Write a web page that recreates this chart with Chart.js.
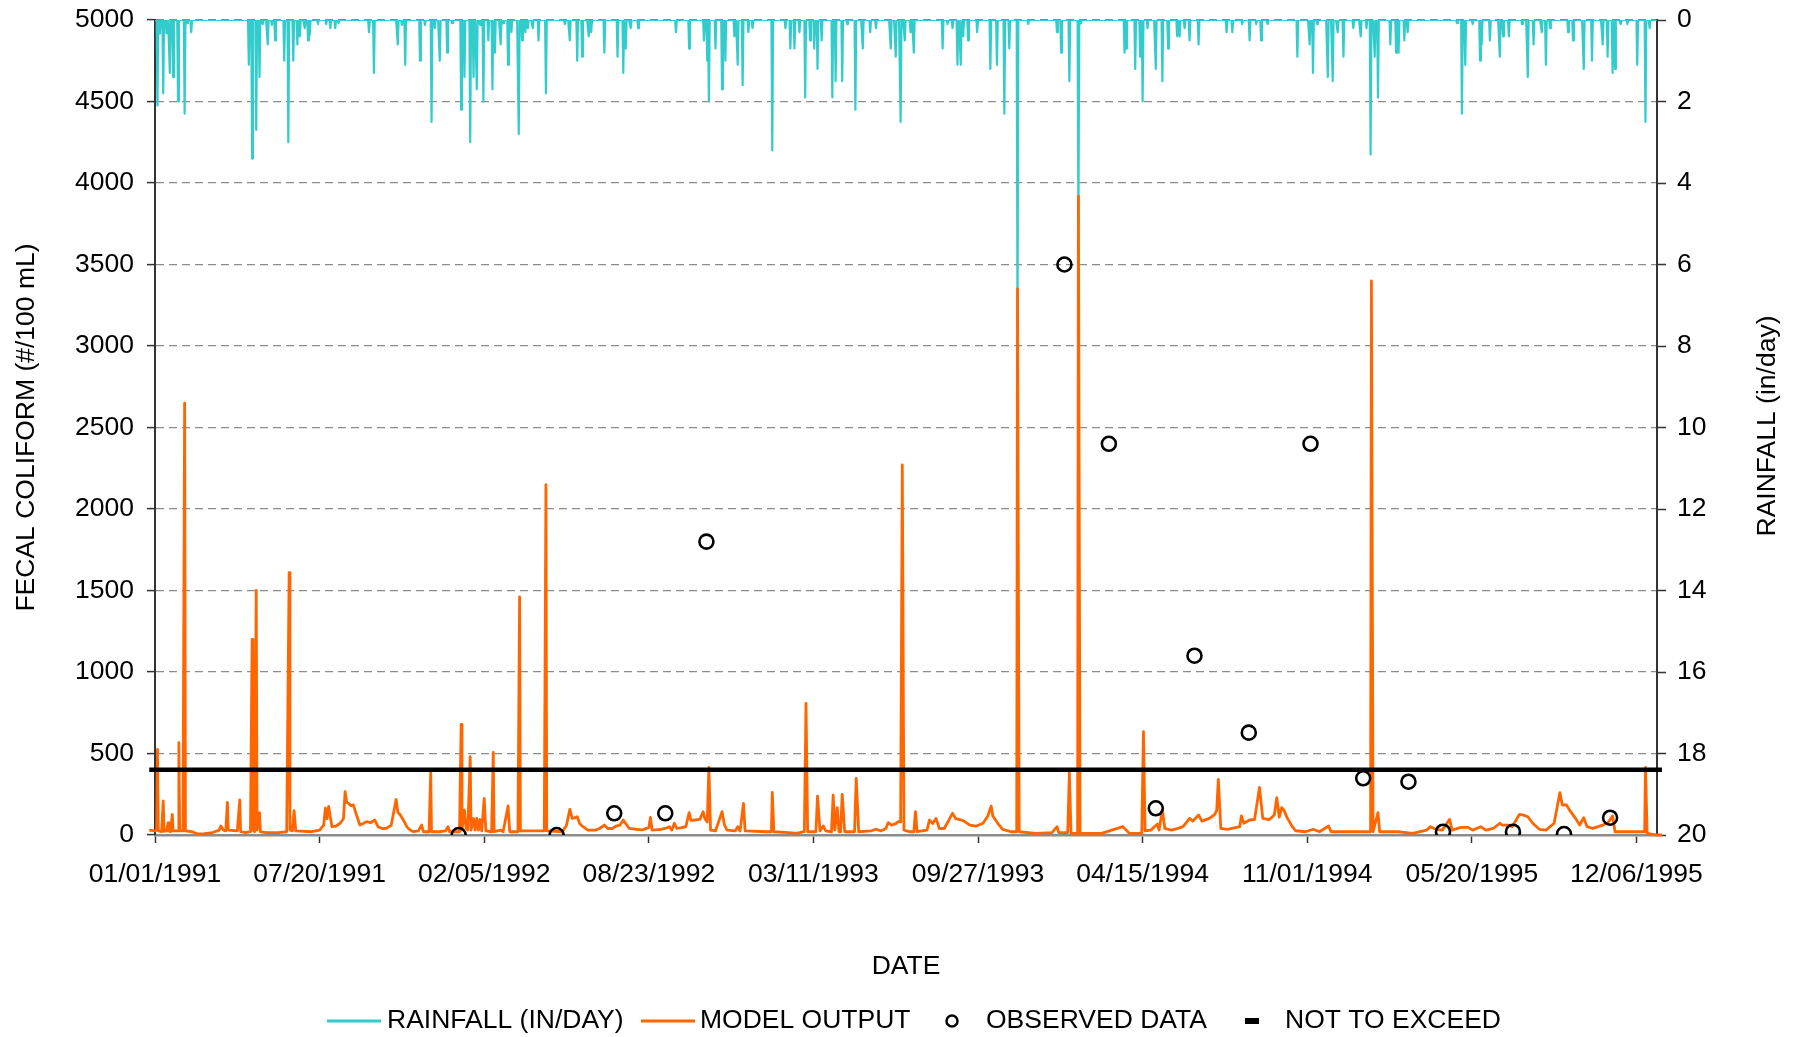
<!DOCTYPE html>
<html>
<head>
<meta charset="utf-8">
<script src="https://cdn.jsdelivr.net/npm/chart.js@4.4.1/dist/chart.umd.min.js"></script>
<style>
html,body{margin:0;padding:0;background:#ffffff;}
#wrap{width:1794px;height:1037px;position:relative;}
</style>
</head>
<body>
<div id="wrap"><canvas id="c" width="1794" height="1037"></canvas></div>
<script>
// Day numbers are counted from 01/01/1991 (day 0).
const START_DATE = '01/01/1991';
const END_DATE = '12/31/1995';
const tickLabels = ['01/01/1991','07/20/1991','02/05/1992','08/23/1992','03/11/1993',
  '09/27/1993','04/15/1994','11/01/1994','05/20/1995','12/06/1995'];

// MODEL OUTPUT (fecal coliform, #/100 mL)
const modelDays = [
  -7,0,2,3,4,8,10,11,14,16,17,19,21,22,28,29,30,34,36,37,45,52,60,70,78,80,83,86,88,89,
  100,103,104,110,116,118,119,121,123,124,127,128,135,150,160,163,164,167,169,171,
  190,200,205,207,209,211,215,220,225,229,231,233,235,238,241,245,249,253,257,262,
  267,271,276,281,287,293,295,298,302,306,310,314,320,324,326,333,335,336,345,353,
  356,358,370,372,373,376,378,380,383,384,387,389,391,393,395,397,400,402,409,411,
  412,420,423,429,431,441,443,444,473,475,476,495,500,504,507,510,513,516,520,526,
  535,540,546,550,556,560,565,569,572,576,585,592,600,602,604,607,615,620,625,628,
  631,634,640,645,649,651,656,662,666,668,671,673,675,681,689,692,695,705,708,711,
  715,717,742,749,750,752,770,779,789,791,793,803,805,808,812,815,822,824,826,829,
  831,833,835,838,850,852,855,870,876,882,888,891,895,900,903,906,908,910,917,922,
  924,926,938,941,945,949,953,959,969,973,982,990,998,1006,1012,1016,1018,1024,1030,1040,
  1047,1048,1050,1070,1090,1096,1098,1109,1111,1113,1121,1122,1124,1150,1176,1184,1199,1201,1203,1210,
  1218,1220,1224,1227,1235,1243,1249,1253,1257,1261,1268,1272,1281,1287,1290,1292,1295,1303,1318,1320,
  1323,1330,1336,1342,1346,1354,1360,1363,1366,1369,1372,1376,1382,1386,1398,1407,1415,1426,1429,1470,
  1477,1478,1480,1486,1488,1510,1528,1545,1550,1556,1564,1573,1576,1587,1595,1601,1611,1617,1626,1634,
  1637,1645,1649,1658,1663,1668,1674,1682,1690,1700,1707,1710,1715,1720,1726,1731,1736,1740,1747,1759,
  1765,1771,1774,1800,1810,1811,1813,1824,1831
];
const modelValues = [
  30,25,30,525,25,20,209,22,25,75,25,20,127,25,25,566,25,25,2650,25,20,6,8,15,30,55,30,25,200,30,
  25,215,20,15,20,1200,30,20,1500,30,137,20,15,15,20,1610,30,25,150,25,
  20,30,60,165,100,175,51,55,72,100,266,200,195,180,185,120,61,70,82,75,
  92,51,40,41,60,219,140,123,90,51,30,20,25,61,20,20,382,20,20,25,
  51,20,20,679,30,153,40,30,480,30,102,30,102,30,95,25,225,25,20,507,
  20,30,20,178,20,20,1460,25,25,2150,25,20,60,157,102,105,112,70,51,30,
  30,40,61,40,40,55,61,92,70,41,35,31,45,108,30,31,35,40,51,30,
  72,40,45,51,137,90,92,96,143,102,80,415,30,25,143,60,30,25,51,25,
  194,25,20,20,262,20,15,10,20,808,20,20,239,25,55,25,20,245,30,168,
  20,20,249,20,20,348,20,25,35,25,40,76,60,70,82,80,2270,30,20,20,
  143,20,30,92,70,102,40,40,133,100,88,60,55,72,117,178,117,72,35,20,
  20,3350,20,10,15,51,15,15,382,10,10,3920,10,10,51,10,10,634,25,30,
  67,30,153,40,30,41,51,75,102,85,123,85,102,123,150,341,41,35,51,117,
  72,92,95,292,102,95,123,229,110,168,149,102,51,26,20,35,20,55,20,20,
  20,3400,20,137,20,20,10,30,51,35,30,96,30,47,47,30,51,30,40,72,
  61,61,51,127,122,112,72,35,30,72,260,184,184,143,102,61,106,51,41,61,
  72,117,20,20,20,415,10,0,0
];

// RAINFALL (in/day) - days with rain; every other day is 0
const rainDays = [
  3,6,10,14,18,22,28,36,39,44,114,118,123,127,131,137,142,146,157,162,
  168,173,176,182,186,188,198,208,213,219,223,260,266,295,300,304,322,328,336,340,
  346,355,361,372,376,383,387,391,395,399,405,410,413,420,423,429,433,442,446,450,
  453,459,466,475,498,504,513,519,527,530,546,562,569,572,578,587,633,649,667,671,
  673,681,689,693,704,708,714,721,726,750,766,772,777,783,790,796,801,805,810,823,
  827,835,841,851,860,869,876,894,900,906,911,918,922,957,963,969,975,979,982,988,
  999,1015,1023,1032,1038,1048,1061,1096,1101,1111,1122,1125,1178,1180,1191,1197,1200,1206,1216,1224,
  1231,1242,1245,1251,1257,1268,1302,1309,1321,1330,1338,1344,1352,1388,1403,1407,1412,1425,1431,1437,
  1444,1456,1465,1472,1477,1482,1486,1501,1508,1511,1518,1522,1582,1588,1592,1601,1610,1612,1622,1634,
  1638,1645,1661,1668,1675,1685,1690,1695,1717,1723,1736,1746,1759,1765,1771,1774,1781,1789,1801,1811,
  1816
];
const rainValues = [
  2.1,0.33,1.8,0.33,1.3,1.4,2.0,2.3,0.08,0.3,1.1,3.4,2.7,1.4,0.1,0.6,0.12,0.5,1.0,3.0,
  1.0,0.6,0.4,0.2,0.5,0.37,0.1,0.1,0.2,0.2,0.08,0.3,1.3,0.6,0.12,1.1,1.0,0.12,2.5,0.2,
  1.0,0.8,0.08,2.2,1.4,3.0,1.4,1.7,0.12,2.0,0.5,1.7,0.8,0.6,0.08,1.1,0.3,2.8,0.5,0.3,
  0.2,0.2,0.5,1.8,0.1,0.5,1.0,0.9,0.4,0.3,0.8,0.9,1.3,0.7,0.2,0.2,0.3,0.7,0.5,1.0,
  2.0,0.7,1.7,1.0,0.4,1.1,1.6,0.3,0.2,3.2,0.2,0.7,0.7,0.3,1.9,0.5,0.7,1.2,0.5,1.9,
  1.5,1.5,0.1,2.2,0.7,0.3,0.2,0.7,0.9,2.5,0.5,0.3,0.8,0.7,0.1,0.2,1.1,1.1,0.4,0.5,
  0.3,1.2,1.1,2.3,0.7,7.5,0.1,0.3,0.8,1.5,5.0,0.08,0.8,0.7,1.2,0.9,2.0,0.2,1.2,1.5,
  0.7,0.4,0.4,0.2,0.5,0.6,0.3,0.3,0.1,0.5,0.1,0.5,0.1,0.9,0.6,1.3,0.1,1.4,1.5,0.3,
  0.9,0.2,0.4,0.2,3.3,0.9,1.9,0.6,0.8,0.8,0.5,0.3,0.08,2.3,1.1,0.1,1.0,0.6,0.5,0.9,
  0.4,0.4,0.1,1.4,0.6,0.3,1.1,0.2,0.3,0.5,1.2,1.0,0.6,0.9,1.3,1.2,0.1,0.1,1.1,2.5,
  0.2
];

// OBSERVED DATA
const obsDays = [369,488,558,620,670,1105,1159,1216,1263,1329,1404,1468,1523,1565,1650,1712,1768];
const obsValues = [0,0,133,133,1800,3500,2400,164,1100,628,2400,348,327,20,20,6,106];

// NOT TO EXCEED
const nteValue = 400;
const nteDays = [-7, 1831];

const seriesLabels = ['RAINFALL (IN/DAY)','MODEL OUTPUT','OBSERVED DATA','NOT TO EXCEED'];

// ---------------------------------------------------------------
function dayOf(s){
  const p = s.split('/').map(Number);
  const b = START_DATE.split('/').map(Number);
  return Math.round((Date.UTC(p[2],p[0]-1,p[1]) - Date.UTC(b[2],b[0]-1,b[1]))/86400000);
}
const tickDays = tickLabels.map(dayOf);
const xMax = dayOf(END_DATE);

const rainSeries = [];
for (let d = 0; d <= xMax; d++) {
  const i = rainDays.indexOf(d);
  rainSeries.push({x: d, y: i >= 0 ? rainValues[i] : 0});
}
const modelSeries = modelDays.map((d,i)=>({x:d, y:modelValues[i]}));
const obsSeries = obsDays.map((d,i)=>({x:d, y:obsValues[i]}));
const nteSeries = nteDays.map(d=>({x:d, y:nteValue}));

const FONT = '"Liberation Sans", Arial, Helvetica, sans-serif';
const FSIZE = 26.5;
const RAIN_COLOR = '#33CCCC';
const MODEL_COLOR = '#FF6600';

const extras = {
  id: 'extras',
  afterDraw(chart){
    const ctx = chart.ctx;
    ctx.save();
    // right axis title (reads bottom to top)
    ctx.font = FSIZE + 'px ' + FONT;
    ctx.fillStyle = '#000';
    ctx.textAlign = 'center';
    ctx.textBaseline = 'middle';
    ctx.translate(1768, 426);
    ctx.rotate(-Math.PI/2);
    ctx.fillText('RAINFALL (in/day)', 0, 0);
    ctx.restore();

    // legend
    ctx.save();
    ctx.font = FSIZE + 'px ' + FONT;
    ctx.textAlign = 'left';
    ctx.textBaseline = 'middle';
    ctx.fillStyle = '#000';
    const y = 1021;
    ctx.lineCap = 'butt';
    ctx.strokeStyle = RAIN_COLOR; ctx.lineWidth = 3;
    ctx.beginPath(); ctx.moveTo(327, y); ctx.lineTo(381, y); ctx.stroke();
    ctx.fillText(seriesLabels[0], 387, y);
    ctx.strokeStyle = MODEL_COLOR; ctx.lineWidth = 3;
    ctx.beginPath(); ctx.moveTo(641, y); ctx.lineTo(695, y); ctx.stroke();
    ctx.fillText(seriesLabels[1], 700, y);
    ctx.strokeStyle = '#000'; ctx.lineWidth = 2.5;
    ctx.beginPath(); ctx.arc(952, y, 5.5, 0, Math.PI*2); ctx.stroke();
    ctx.fillText(seriesLabels[2], 986, y);
    ctx.fillRect(1245, y-3, 14, 6);
    ctx.fillText(seriesLabels[3], 1285, y);
    ctx.restore();
  }
};

function fitY(w){
  return function(s){ s.width = w; s.paddingTop = 0; s.paddingBottom = 0; };
}

new Chart(document.getElementById('c'), {
  type: 'line',
  data: {
    datasets: [
      { label: seriesLabels[0], data: rainSeries, yAxisID: 'y1', borderColor: RAIN_COLOR,
        borderWidth: 2.2, borderJoinStyle: 'round', pointRadius: 0, tension: 0, order: 4, fill: false },
      { label: seriesLabels[1], data: modelSeries, yAxisID: 'y', borderColor: MODEL_COLOR,
        borderWidth: 2.8, borderJoinStyle: 'round', pointRadius: 0, tension: 0, order: 3, fill: false, clip: false },
      { label: seriesLabels[2], data: obsSeries, yAxisID: 'y', showLine: false,
        pointStyle: 'circle', pointRadius: 7, pointBorderWidth: 2.6, pointBorderColor: '#000',
        pointBackgroundColor: 'rgba(0,0,0,0)', borderColor: '#000', borderWidth: 2.6, order: 1 },
      { label: seriesLabels[3], data: nteSeries, yAxisID: 'y', borderColor: '#000',
        borderWidth: 4.5, pointRadius: 0, order: 2, clip: false, fill: false }
    ]
  },
  options: {
    responsive: false,
    animation: false,
    devicePixelRatio: 1,
    events: [],
    parsing: false,
    normalized: true,
    layout: { padding: { top: 20, left: 0, right: 0, bottom: 0 } },
    plugins: { legend: { display: false }, tooltip: { enabled: false } },
    scales: {
      x: {
        type: 'linear', min: 0, max: xMax, position: 'bottom',
        afterFit(s){ s.height = 202; s.paddingLeft = 0; s.paddingRight = 0; },
        afterBuildTicks(s){ s.ticks = tickDays.map(v=>({value:v})); },
        grid: { drawOnChartArea: false, drawTicks: true, tickLength: 8, tickColor: '#333', tickWidth: 1.5, tickBorderDash: [] },
        border: { color: '#8c8c8c', width: 2.5 },
        ticks: { autoSkip: false, maxRotation: 0, padding: 16, color: '#000',
          font: { family: FONT, size: FSIZE },
          callback(v){ const i = tickDays.indexOf(v); return i >= 0 ? tickLabels[i] : ''; } },
        title: { display: true, text: 'DATE', color: '#000', font: { family: FONT, size: FSIZE },
          padding: { top: 0, bottom: 54 } }
      },
      y: {
        type: 'linear', position: 'left', min: 0, max: 5000,
        afterFit: fitY(155),
        grid: { color: '#8c8c8c', lineWidth: 1.2, drawTicks: true, tickLength: 8, tickColor: '#333', tickWidth: 1.5, tickBorderDash: [] },
        border: { color: '#333', width: 2, dash: [8,5] },
        ticks: { stepSize: 500, padding: 13, color: '#000', font: { family: FONT, size: FSIZE },
          callback(v){ return String(v); } },
        title: { display: true, text: 'FECAL COLIFORM (#/100 mL)', color: '#000',
          font: { family: FONT, size: FSIZE }, padding: { top: 11, bottom: 0 } }
      },
      y1: {
        type: 'linear', position: 'right', min: 0, max: 20, reverse: true,
        afterFit: fitY(137),
        grid: { drawOnChartArea: false, drawTicks: true, tickLength: 9, tickColor: '#333', tickWidth: 1.5, tickBorderDash: [] },
        border: { color: '#333', width: 2 },
        ticks: { stepSize: 2, padding: 11, color: '#000', font: { family: FONT, size: FSIZE },
          callback(v){ return String(v); } }
      }
    }
  },
  plugins: [extras]
});
</script>
</body>
</html>
